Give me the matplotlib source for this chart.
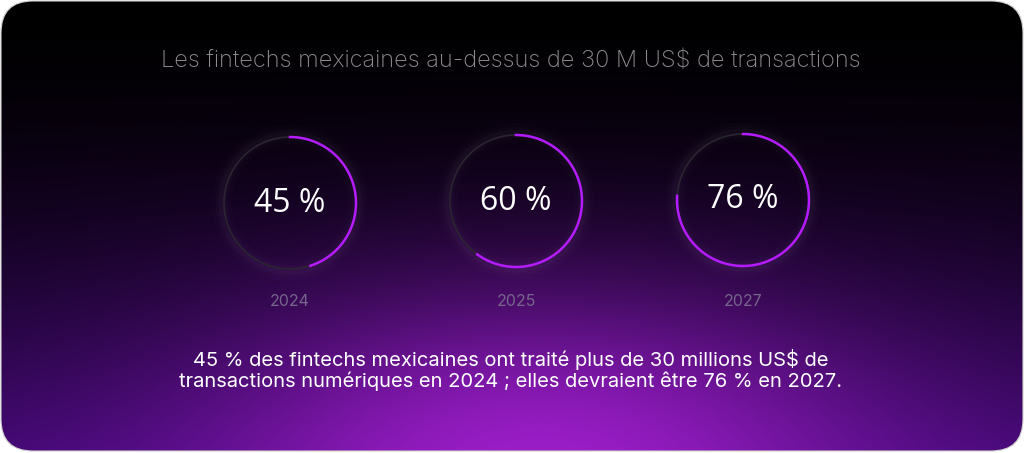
import numpy as np
import matplotlib
matplotlib.use('Agg')
from matplotlib import pyplot as plt
from matplotlib.patches import FancyBboxPatch

# data
years = ['2024', '2025', '2027']
shares = [45, 60, 76]
title = 'Les fintechs mexicaines au-dessus de 30 M US$ de transactions'
note = ('45 % des fintechs mexicaines ont traité plus de 30 millions US$ de\n'
        'transactions numériques en 2024 ; elles devraient être 76 % en 2027.')

W, H = 1024, 453
fig = plt.figure(figsize=(W / 100, H / 100), dpi=100)
fig.patch.set_facecolor('white')
ax = fig.add_axes([0, 0, 1, 1])
ax.set_xlim(0, W)
ax.set_ylim(H, 0)
ax.axis('off')

# background: black on top, purple glow at the bottom centre
yy, xx = np.mgrid[0:H, 0:W].astype(float)
t = (yy / H) ** 1.7
base = np.stack([0x40 * t, 0x08 * t, 0x72 * t], axis=-1) / 255.0
d2 = ((xx - 540) / 440) ** 2 + ((yy - 475) / 220) ** 2
g = np.exp(-d2 * 1.7)[..., None]
glow = g * np.array([0x9c, 0x1e, 0xc8]) / 255.0
bg = np.clip(base * (1 - g) + glow, 0, 1)

card = FancyBboxPatch((1, 1), W - 2, H - 3, boxstyle='round,pad=0,rounding_size=32',
                      facecolor='none', edgecolor='#cfcfcf', linewidth=0.8, zorder=1)
ax.add_patch(card)
im = ax.imshow(bg, extent=(0, W, H, 0), zorder=0, interpolation='bilinear')
im.set_clip_path(card)
ax.set_xlim(0, W)
ax.set_ylim(H, 0)

ax.text(511, 61, title, color='#8c8c8c', fontsize=17, family='Inter',
        fontweight='light', ha='center', va='center')

centers = [(290, 203), (516, 201), (743, 200)]
r = 66
th = np.linspace(0, 2 * np.pi, 400)
for (cx, cy), year, share in zip(centers, years, shares):
    # soft halo
    for lw, a in [(14, 0.012), (9, 0.016), (5, 0.025)]:
        ax.plot(cx + (r + 2) * np.sin(th), cy - (r + 2) * np.cos(th),
                color='white', lw=lw, alpha=a, zorder=2, solid_capstyle='round')
    ax.plot(cx + r * np.sin(th), cy - r * np.cos(th), color='#2a2430', lw=1.2, zorder=3)
    ta = np.linspace(0, 2 * np.pi * share / 100, 300)
    ax.plot(cx + r * np.sin(ta), cy - r * np.cos(ta), color='#b41cff', lw=1.8, zorder=4)
    ax.text(cx, cy, f'{share} %', color='white', fontsize=23, family='Open Sans',
            ha='center', va='center', zorder=5)
    ax.text(cx, 301, year, color='#76668c', fontsize=11.5, family='Inter',
            ha='center', va='center', zorder=5)

ax.text(511, 370, note, color='white', fontsize=14.5, family='Inter',
        ha='center', va='center', linespacing=1.15, zorder=5)

fig.savefig('out.png', dpi=100, facecolor='white')
